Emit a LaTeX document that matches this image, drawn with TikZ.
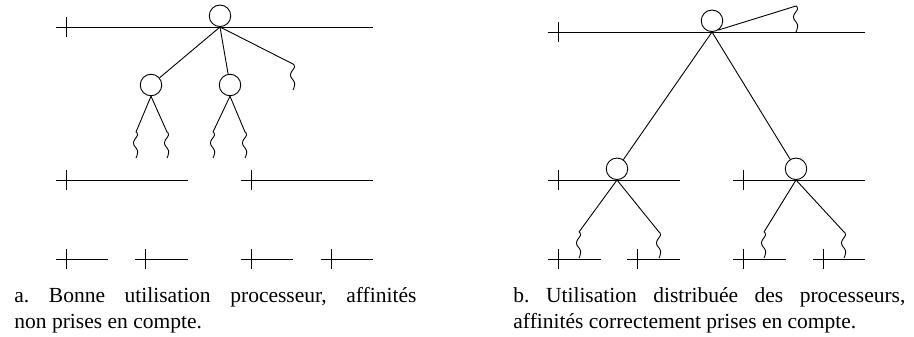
\documentclass[tikz,border=0pt]{standalone}
\usepackage{fontspec}
\setmainfont{Liberation Serif}
\frenchspacing
\tikzset{
  proc/.style={circle, draw, fill=white, minimum size=21.5pt, inner sep=0pt},
  wave/.pic={\draw plot[smooth, tension=0.7] coordinates {(0,0) (1.6,3) (-2.6,11) (1.6,19) (0,26)};},
  caption/.style={anchor=base west, inner sep=0pt, font=\fontsize{21.5}{26}\selectfont}
}
\begin{document}
\begin{tikzpicture}[x=1pt, y=-1pt, line width=0.9pt]
    \useasboundingbox (0,0) rectangle (914,337);

    % Levels (a and b)
    \foreach \a/\b/\y in {56/373/27, 56/188/180, 241/373/180,
                          56/108/259, 135/188/259, 241/293/259, 321/373/259,
                          548/865/32, 548/680/180, 733/865/180,
                          548/601/259, 627/680/259, 733/786/259, 813/865/259} {
        \draw (\a,\y) -- (\b,\y);
        \draw (\a+10,\y-10) -- (\a+10,\y+10);
    }

    % a. tree
    \node[proc, anchor=south] (ra) at (220,27) {};
    \node[proc] (ra1) at (151,85) {};
    \node[proc] (ra2) at (230,85) {};
    \coordinate (wa) at (293,64);
    \coordinate (wa11) at (136,132);
    \coordinate (wa12) at (167,132);
    \coordinate (wa21) at (213,132);
    \coordinate (wa22) at (245,132);
    \draw (ra.south) -- (ra1);
    \draw (ra.south) -- (ra2);
    \draw (ra.south) -- (wa);
    \pic at (wa) {wave};
    \foreach \i in {1,2} {
        \draw (ra\i.south) -- (wa\i1);
        \draw (ra\i.south) -- (wa\i2);
        \pic at (wa\i1) {wave};
        \pic at (wa\i2) {wave};
    }

    % b. tree
    \node[proc, anchor=south] (rb) at (712,32) {};
    \node[proc, anchor=south] (rb1) at (617,180) {};
    \node[proc, anchor=south] (rb2) at (796,180) {};
    \coordinate (wb) at (796,6);
    \coordinate (wb11) at (579,232);
    \coordinate (wb12) at (659,232);
    \coordinate (wb21) at (764,232);
    \coordinate (wb22) at (844,232);
    \draw (rb.-56) -- (wb);
    \pic at (wb) {wave};
    \draw (rb.south) -- (rb1);
    \draw (rb.south) -- (rb2);
    \foreach \i in {1,2} {
        \draw (rb\i.south) -- (wb\i1);
        \draw (rb\i.south) -- (wb\i2);
        \pic at (wb\i1) {wave};
        \pic at (wb\i2) {wave};
    }

    % Captions
    \node[caption] (capa1) at (14,302) {\makebox[402pt][s]{a. Bonne utilisation processeur, affinités}};
    \node[caption] (capa2) at (14,328) {non prises en compte.};
    \node[caption] (capb1) at (513,302) {\makebox[392pt][s]{b. Utilisation distribuée des processeurs,}};
    \node[caption] (capb2) at (513,328) {affinités correctement prises en compte.};
\end{tikzpicture}
\end{document}
